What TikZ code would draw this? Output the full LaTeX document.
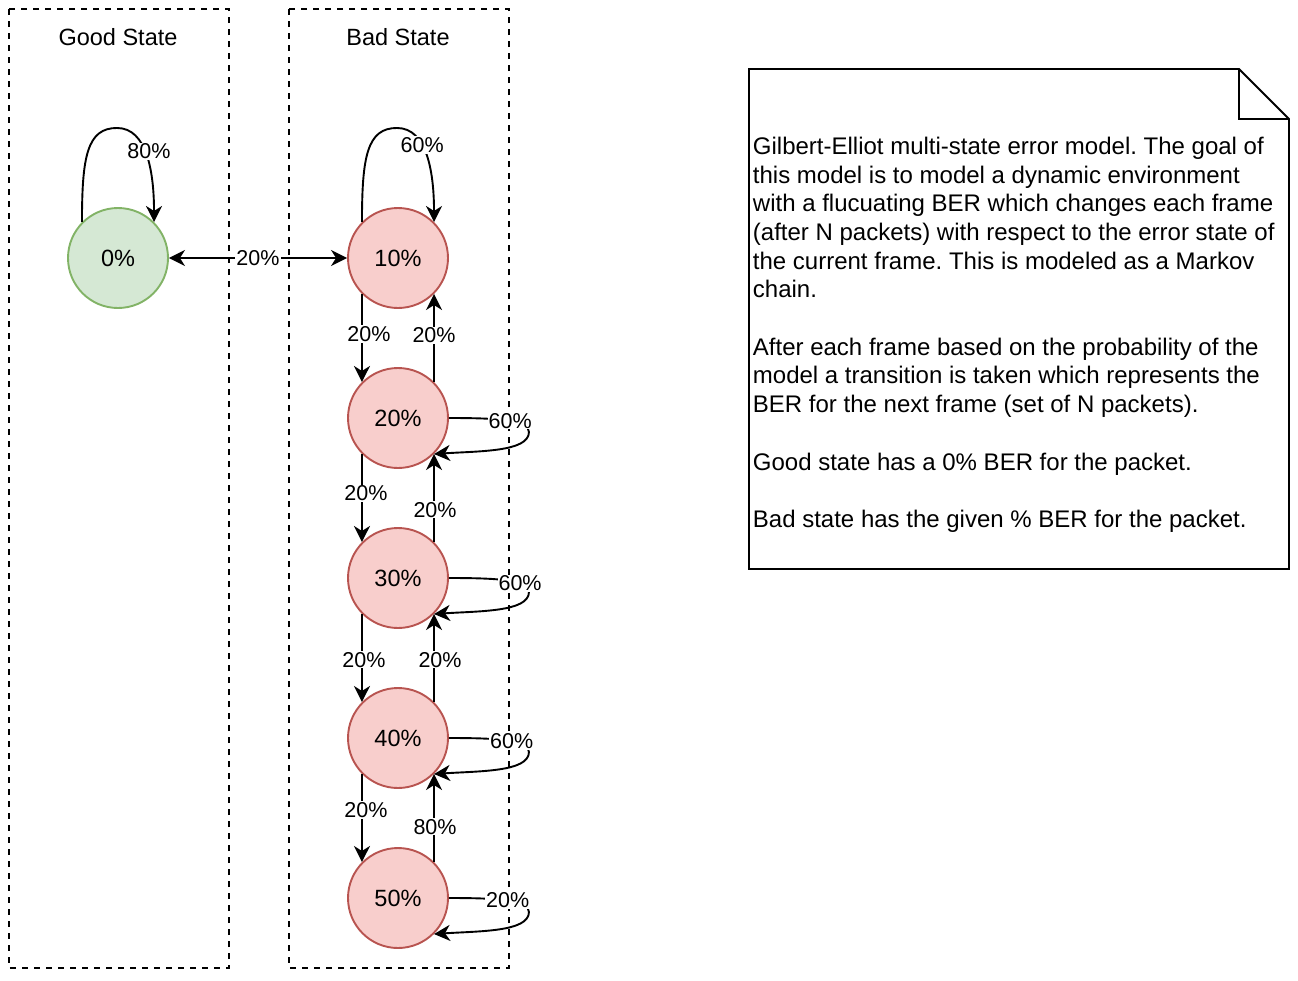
\documentclass[tikz,border=0pt]{standalone}
\usepackage{fontspec}
\setmainfont{Liberation Sans}
\usepackage{tikz}
\usetikzlibrary{arrows.meta}
\frenchspacing

\definecolor{goodfill}{HTML}{D5E8D4}
\definecolor{goodline}{HTML}{82B366}
\definecolor{badfill}{HTML}{F8CECC}
\definecolor{badline}{HTML}{B85450}

\begin{document}
\begin{tikzpicture}
  [x=1pt,y=-1pt,line width=1.9pt,
   >={Stealth[length=16pt,width=16pt,inset=5pt]},
   every node/.style={font=\fontsize{23.5}{28}\selectfont}]

  \tikzstyle{good} = [circle,draw=goodline,fill=goodfill,minimum size=100pt,inner sep=0pt]
  \tikzstyle{bad} = [circle,draw=badline,fill=badfill,minimum size=100pt,inner sep=0pt]
  \tikzstyle{region} = [draw,dash pattern=on 6pt off 6pt]
  \tikzstyle{prob} = [fill=white,inner sep=1pt,font=\fontsize{21.5}{26}\selectfont]

  \useasboundingbox (0,0) rectangle (1298,980);

  % state groups
  \draw[region] (9,9) rectangle (229,968);
  \draw[region] (289,9) rectangle (509,968);
  \node (goodtitle) at (118,37) {Good State};
  \node (badtitle)  at (398,37) {Bad State};

  \node [good] (s0)  at (118,258) {0\%};
  \node [bad]  (s10) at (398,258) {10\%};
  \node [bad]  (s20) at (398,418) {20\%};
  \node [bad]  (s30) at (398,578) {30\%};
  \node [bad]  (s40) at (398,738) {40\%};
  \node [bad]  (s50) at (398,898) {50\%};

  \path[<->] (s0) edge node[prob] {20\%} (s10);

  \path[->]
        (s10.-135) edge node[prob,pos=0.455,xshift=7pt] {20\%} (s20.135)
        (s20.45)   edge node[prob,pos=0.53]             {20\%} (s10.-45)
        (s20.-135) edge node[prob,pos=0.445,xshift=4pt] {20\%} (s30.135)
        (s30.45)   edge node[prob,pos=0.365,xshift=1pt] {20\%} (s20.-45)
        (s30.-135) edge node[prob,pos=0.52,xshift=2pt]  {20\%} (s40.135)
        (s40.45)   edge node[prob,pos=0.48,xshift=6pt]  {20\%} (s30.-45)
        (s40.-135) edge node[prob,pos=0.41,xshift=4pt]  {20\%} (s50.135)
        (s50.45)   edge node[prob,pos=0.40,xshift=1pt]  {80\%} (s40.-45);

  % loops on top
  \draw[->] (s0.135) .. controls +(0,-65) and +(-30,0) .. ++(35,-94)
        .. controls +(30,0) and +(0,-50) .. (s0.45) node[prob,pos=0.45,xshift=4pt] {80\%};
  \draw[->] (s10.135) .. controls +(0,-65) and +(-30,0) .. ++(35,-94)
        .. controls +(30,0) and +(0,-50) .. (s10.45) node[prob,pos=0.38] {60\%};

  % loops on the right
  \draw[->] (s20.east) .. controls +(50,0) and +(0,-12) .. ++(80,14) node[prob,pos=0.53] {60\%}
        .. controls +(0,20) and +(45,-3) .. (s20.-45);
  \draw[->] (s30.east) .. controls +(50,0) and +(0,-12) .. ++(80,14) node[prob,pos=0.68] {60\%}
        .. controls +(0,20) and +(45,-3) .. (s30.-45);
  \draw[->] (s40.east) .. controls +(50,0) and +(0,-12) .. ++(80,14) node[prob,pos=0.55] {60\%}
        .. controls +(0,20) and +(45,-3) .. (s40.-45);
  \draw[->] (s50.east) .. controls +(50,0) and +(0,-12) .. ++(80,14) node[prob,pos=0.5] {20\%}
        .. controls +(0,20) and +(45,-3) .. (s50.-45);

  % note
  \draw (749,69) -- (1239,69) -- (1289,119) -- (1289,569) -- (749,569) -- cycle;
  \draw (1239,69) -- (1239,119) -- (1289,119);
  \node [anchor=north west,inner sep=0pt,align=left,font=\fontsize{24}{28.7}\selectfont]
        (notetext) at (752,136)
        {Gilbert-Elliot multi-state error model. The goal of\\
         this model is to model a dynamic environment\\
         with a flucuating BER which changes each frame\\
         (after N packets) with respect to the error state of\\
         the current frame. This is modeled as a Markov\\
         chain.\\[28.7pt]
         After each frame based on the probability of the\\
         model a transition is taken which represents the\\
         BER for the next frame (set of N packets).\\[28.7pt]
         Good state has a 0\% BER for the packet.\\[28.7pt]
         Bad state has the given \% BER for the packet.};
\end{tikzpicture}
\end{document}
